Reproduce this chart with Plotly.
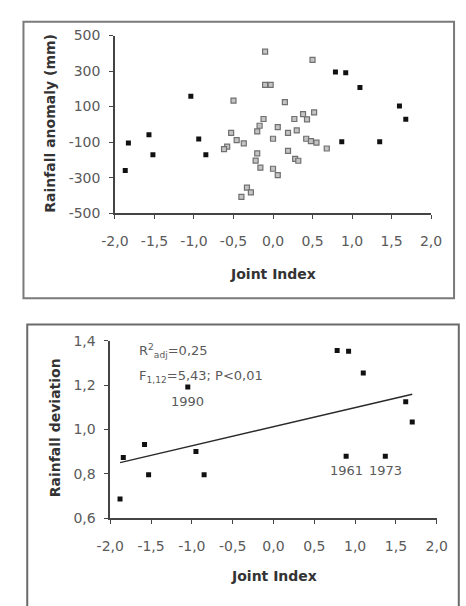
import plotly.graph_objects as go

W, H = 466, 606

# ---- Top panel data: Joint Index vs rainfall anomaly (mm)
black_x = [-1.87, -1.83, -1.57, -1.52, -1.04, -0.94, -0.85, 0.79, 0.92, 1.10, 0.87, 1.35, 1.60, 1.68]
black_y = [-260, -105, -58, -171, 158, -83, -171, 295, 290, 207, -98, -98, 103, 28]

gray_x = [-0.10, 0.50, -0.10, -0.03, -0.50, 0.15, -0.12, 0.27, 0.38, 0.43, 0.52,
          0.06, -0.17, -0.20, 0.19, 0.30, 0.00, -0.53, -0.46, -0.37, -0.58, -0.62,
          0.42, 0.48, 0.55, 0.68, 0.19, -0.20, -0.22, -0.16, 0.28, 0.32, 0.00, 0.06,
          -0.33, -0.28, -0.40]
gray_y = [409, 363, 222, 222, 134, 125, 30, 30, 58, 28, 67,
          -16, -8, -40, -48, -34, -81, -48, -89, -107, -125, -140,
          -81, -94, -103, -136, -149, -163, -204, -244, -195, -205, -250, -286,
          -356, -383, -409]

top_xticks = [-2.0, -1.5, -1.0, -0.5, 0.0, 0.5, 1.0, 1.5, 2.0]
top_xtext = ["-2,0", "-1,5", "-1,0", "-0,5", "0,0", "0,5", "1,0", "1,5", "2,0"]
top_yticks = [-500, -300, -100, 100, 300, 500]
top_ytext = ["-500", "-300", "-100", "100", "300", "500"]

# ---- Bottom panel data: Joint Index vs rainfall deviation
dev_x = [-1.88, -1.84, -1.58, -1.53, -1.05, -0.95, -0.85, 0.78, 0.92, 1.10, 0.89, 1.37, 1.62, 1.70]
dev_y = [0.686, 0.874, 0.932, 0.796, 1.191, 0.900, 0.796, 1.356, 1.352, 1.254, 0.879, 0.879, 1.125, 1.034]
fit_slope = 0.086
fit_intercept = 1.012
labeled_years = ["1990", "1961", "1973"]
labeled_x = [-1.05, 0.89, 1.37]
labeled_y = [1.191, 0.879, 0.879]

bot_yticks = [0.6, 0.8, 1.0, 1.2, 1.4]
bot_ytext = ["0,6", "0,8", "1,0", "1,2", "1,4"]

FONT = "DejaVu Sans"
TICKCOL = "#5a5a5a"
TITLECOL = "#333333"
AXCOL = "#444444"

def px_x(p):
    return p / W

def px_y(p):
    return 1 - p / H

fig = go.Figure()

fig.add_trace(go.Scatter(x=gray_x, y=gray_y, mode="markers", xaxis="x", yaxis="y",
                         marker=dict(symbol="square", size=5, color="#c4c4c4",
                                     line=dict(width=1.2, color="#707070")),
                         showlegend=False))
fig.add_trace(go.Scatter(x=black_x, y=black_y, mode="markers", xaxis="x", yaxis="y",
                         marker=dict(symbol="square", size=5, color="#111111"),
                         showlegend=False))

fx = [min(dev_x), max(dev_x)]
fy = [fit_intercept + fit_slope * v for v in fx]
fig.add_trace(go.Scatter(x=fx, y=fy, mode="lines", xaxis="x2", yaxis="y2",
                         line=dict(color="#2a2a2a", width=1.5), showlegend=False))
fig.add_trace(go.Scatter(x=dev_x, y=dev_y, mode="markers", xaxis="x2", yaxis="y2",
                         marker=dict(symbol="square", size=5, color="#111111"),
                         showlegend=False))

axis_common = dict(showgrid=False, zeroline=False, showline=True, linecolor=AXCOL,
                   linewidth=1.5, ticks="outside", ticklen=4, tickcolor=AXCOL,
                   tickwidth=1.2, tickfont=dict(family=FONT, size=14, color=TICKCOL))

fig.update_layout(
    width=W, height=H, margin=dict(l=0, r=0, t=0, b=0),
    paper_bgcolor="white", plot_bgcolor="white",
    xaxis=dict(axis_common, domain=[px_x(106.7), px_x(440.7)], range=[-2, 2],
               tickvals=top_xticks, ticktext=top_xtext, anchor="y",
               ticklabelstandoff=10),
    yaxis=dict(axis_common, domain=[px_y(210.7), px_y(28.3)], range=[-500, 500],
               tickvals=top_yticks, ticktext=top_ytext, anchor="x",
               ticklabelstandoff=6),
    xaxis2=dict(axis_common, domain=[px_x(101.7), px_x(446.7)], range=[-2, 2],
                tickvals=top_xticks, ticktext=top_xtext, anchor="y2",
                ticklabelstandoff=10),
    yaxis2=dict(axis_common, domain=[px_y(524), px_y(341.7)], range=[0.6, 1.4],
                tickvals=bot_yticks, ticktext=bot_ytext, anchor="x2",
                ticklabelstandoff=6),
)

# panel frames
fig.add_shape(type="rect", xref="paper", yref="paper",
              x0=px_x(10), x1=px_x(465), y0=px_y(298), y1=px_y(14),
              line=dict(color="#7a7a7a", width=2))
fig.add_shape(type="rect", xref="paper", yref="paper",
              x0=px_x(14), x1=px_x(470), y0=px_y(620), y1=px_y(325),
              line=dict(color="#6a6a6a", width=2))

title_font = dict(family=FONT, size=14, color=TITLECOL)
def ann(text, x, y, angle=0, font=title_font, xanchor="center"):
    fig.add_annotation(text=text, xref="paper", yref="paper", x=px_x(x), y=px_y(y),
                       showarrow=False, textangle=angle, font=font,
                       xanchor=xanchor, yanchor="middle")

ann("<b>Joint Index</b>", 274, 273)
ann("<b>Rainfall anomaly (mm)</b>", 38, 118, angle=-90)
ann("<b>Joint Index</b>", 275, 583)
ann("<b>Rainfall deviation</b>", 43, 431, angle=-90)

stat_font = dict(family=FONT, size=13, color="#5a5a5a")
ann("R<sup>2</sup><sub>adj</sub>=0,25", 130, 352, font=stat_font, xanchor="left")
ann("F<sub>1,12</sub>=5,43; P<0,01", 130, 378, font=stat_font, xanchor="left")

for t, xv, yv in zip(labeled_years, labeled_x, labeled_y):
    fig.add_annotation(text=t, x=xv, y=yv, xref="x2", yref="y2", showarrow=False,
                       yshift=-14, font=dict(family=FONT, size=13, color="#5a5a5a"))

fig.write_html("out.html")
